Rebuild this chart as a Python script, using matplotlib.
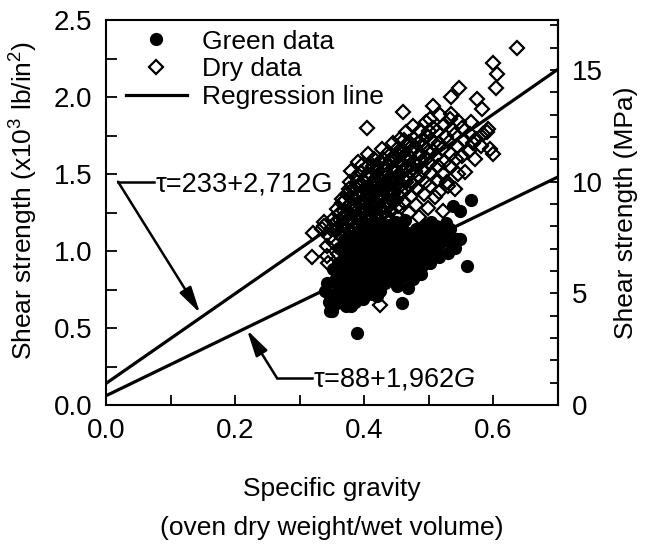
import numpy as np
import matplotlib
matplotlib.use("Agg")
import matplotlib.pyplot as plt
from matplotlib.ticker import MultipleLocator, FormatStrFormatter

plt.rcParams['font.family'] = ['Liberation Sans', 'DejaVu Sans']
plt.rcParams['font.size'] = 19
plt.rcParams['mathtext.fontset'] = 'custom'
plt.rcParams['mathtext.rm'] = 'Liberation Sans'
plt.rcParams['mathtext.it'] = 'Liberation Sans:italic'

# specific gravity, shear strength (x10^3 lb/in^2)
green_pts = [
    (0.388, 0.47), (0.350, 0.61), (0.458, 0.66), (0.559, 0.90), (0.419, 0.71),
    (0.450, 0.77), (0.468, 0.76), (0.380, 0.64), (0.543, 1.08), (0.339, 0.74),
    (0.489, 0.90), (0.566, 1.33), (0.538, 1.29), (0.548, 1.26), (0.347, 0.61),
    (0.548, 1.08), (0.345, 0.72), (0.343, 0.79), (0.352, 0.70), (0.354, 0.81),
    (0.351, 0.88), (0.358, 0.66), (0.359, 0.75), (0.357, 0.84), (0.360, 0.92),
    (0.365, 0.69), (0.366, 0.78), (0.364, 0.86), (0.367, 0.95), (0.372, 0.64),
    (0.373, 0.73), (0.371, 0.82), (0.374, 0.90), (0.372, 0.99), (0.378, 0.70),
    (0.379, 0.79), (0.377, 0.87), (0.380, 0.96), (0.378, 1.03), (0.385, 0.67),
    (0.386, 0.75), (0.384, 0.84), (0.387, 0.92), (0.385, 1.00), (0.392, 0.72),
    (0.393, 0.81), (0.391, 0.89), (0.394, 0.97), (0.392, 1.06), (0.398, 0.69),
    (0.399, 0.78), (0.397, 0.86), (0.400, 0.94), (0.398, 1.02), (0.401, 1.10),
    (0.405, 0.74), (0.406, 0.83), (0.404, 0.91), (0.407, 0.99), (0.405, 1.07),
    (0.412, 0.72), (0.413, 0.80), (0.411, 0.88), (0.414, 0.96), (0.412, 1.04),
    (0.415, 1.12), (0.418, 0.77), (0.419, 0.85), (0.417, 0.93), (0.420, 1.01),
    (0.418, 1.09), (0.425, 0.74), (0.426, 0.82), (0.424, 0.90), (0.427, 0.98),
    (0.425, 1.06), (0.428, 1.14), (0.432, 0.79), (0.433, 0.87), (0.431, 0.95),
    (0.434, 1.03), (0.432, 1.11), (0.438, 0.84), (0.439, 0.92), (0.437, 1.00),
    (0.440, 1.08), (0.445, 0.81), (0.446, 0.89), (0.444, 0.97), (0.447, 1.05),
    (0.445, 1.13), (0.452, 0.86), (0.453, 0.94), (0.451, 1.02), (0.454, 1.10),
    (0.458, 0.83), (0.459, 0.91), (0.457, 0.99), (0.460, 1.07), (0.458, 1.15),
    (0.465, 0.88), (0.466, 0.96), (0.464, 1.04), (0.467, 1.12), (0.472, 0.86),
    (0.473, 0.94), (0.471, 1.01), (0.474, 1.09), (0.478, 0.91), (0.479, 0.99),
    (0.477, 1.07), (0.480, 1.14), (0.485, 0.96), (0.486, 1.04), (0.484, 1.12),
    (0.492, 0.93), (0.493, 1.01), (0.491, 1.09), (0.494, 1.17), (0.498, 0.98),
    (0.499, 1.06), (0.497, 1.14), (0.505, 1.03), (0.506, 1.11), (0.504, 1.19),
    (0.512, 1.00), (0.513, 1.08), (0.511, 1.16), (0.518, 1.05), (0.519, 1.13),
    (0.525, 1.10), (0.526, 1.18), (0.532, 1.06), (0.533, 1.14), (0.361, 1.02),
    (0.369, 1.07), (0.383, 1.10), (0.396, 1.14), (0.409, 1.16), (0.421, 1.18),
    (0.436, 1.17), (0.449, 1.19), (0.463, 1.20), (0.476, 0.82), (0.488, 0.85),
    (0.502, 0.92), (0.516, 0.96), (0.529, 0.99), (0.540, 1.02), (0.346, 0.67),
]

dry_pts = [
    (0.637, 2.32), (0.599, 2.22), (0.605, 2.15), (0.604, 2.06), (0.546, 2.06),
    (0.535, 2.00), (0.574, 1.99), (0.582, 1.92), (0.460, 1.90), (0.404, 1.80),
    (0.507, 1.94), (0.535, 1.89), (0.566, 1.84), (0.592, 1.79), (0.502, 1.86),
    (0.600, 1.63), (0.556, 1.51), (0.540, 1.40), (0.406, 1.63), (0.396, 1.56),
    (0.365, 1.34), (0.337, 1.16), (0.499, 1.28), (0.522, 1.26), (0.442, 1.20),
    (0.590, 1.77), (0.569, 1.70), (0.319, 0.96), (0.321, 1.12), (0.334, 1.14),
    (0.424, 0.65), (0.342, 0.97), (0.344, 0.92), (0.595, 1.66),
    (0.343, 1.03), (0.347, 1.09), (0.338, 1.19), (0.352, 1.06), (0.356, 1.13),
    (0.351, 1.21), (0.358, 1.27), (0.362, 1.01), (0.364, 1.10), (0.367, 1.17),
    (0.361, 1.24), (0.366, 1.31), (0.371, 1.06), (0.374, 1.14), (0.372, 1.22),
    (0.376, 1.30), (0.373, 1.37), (0.378, 1.45), (0.381, 1.11), (0.384, 1.19),
    (0.382, 1.26), (0.386, 1.33), (0.383, 1.40), (0.387, 1.48), (0.391, 1.08),
    (0.394, 1.16), (0.392, 1.23), (0.396, 1.29), (0.393, 1.36), (0.397, 1.43),
    (0.395, 1.51), (0.402, 1.13), (0.404, 1.21), (0.401, 1.27), (0.406, 1.34),
    (0.403, 1.41), (0.407, 1.47), (0.405, 1.55), (0.412, 1.18), (0.414, 1.25),
    (0.411, 1.32), (0.416, 1.38), (0.413, 1.45), (0.417, 1.52), (0.415, 1.60),
    (0.421, 1.15), (0.424, 1.23), (0.422, 1.30), (0.426, 1.37), (0.423, 1.44),
    (0.427, 1.50), (0.425, 1.58), (0.428, 1.66), (0.432, 1.21), (0.434, 1.28),
    (0.431, 1.35), (0.436, 1.42), (0.433, 1.48), (0.437, 1.55), (0.435, 1.63),
    (0.442, 1.26), (0.444, 1.33), (0.441, 1.40), (0.446, 1.46), (0.443, 1.53),
    (0.447, 1.61), (0.445, 1.70), (0.452, 1.29), (0.454, 1.36), (0.451, 1.43),
    (0.456, 1.50), (0.453, 1.57), (0.457, 1.64), (0.455, 1.73), (0.462, 1.32),
    (0.464, 1.40), (0.461, 1.47), (0.466, 1.54), (0.463, 1.61), (0.467, 1.68),
    (0.465, 1.77), (0.472, 1.36), (0.474, 1.44), (0.471, 1.52), (0.476, 1.58),
    (0.473, 1.65), (0.477, 1.73), (0.475, 1.81), (0.482, 1.40), (0.484, 1.48),
    (0.481, 1.55), (0.486, 1.63), (0.483, 1.70), (0.487, 1.78), (0.492, 1.37),
    (0.494, 1.45), (0.491, 1.52), (0.496, 1.60), (0.493, 1.68), (0.497, 1.75),
    (0.495, 1.84), (0.502, 1.42), (0.504, 1.50), (0.501, 1.57), (0.506, 1.65),
    (0.503, 1.72), (0.507, 1.80), (0.512, 1.46), (0.514, 1.55), (0.511, 1.62),
    (0.516, 1.70), (0.513, 1.78), (0.517, 1.88), (0.522, 1.50), (0.524, 1.58),
    (0.521, 1.66), (0.526, 1.74), (0.523, 1.82), (0.532, 1.55), (0.534, 1.63),
    (0.531, 1.71), (0.536, 1.79), (0.533, 1.86), (0.542, 1.60), (0.544, 1.68),
    (0.541, 1.76), (0.546, 1.84), (0.552, 1.62), (0.554, 1.72), (0.551, 1.80),
    (0.562, 1.65), (0.564, 1.76), (0.571, 1.60), (0.573, 1.73), (0.581, 1.68),
    (0.584, 1.76), (0.385, 1.22), (0.395, 1.31), (0.405, 1.38), (0.415, 1.42),
    (0.425, 1.46), (0.398, 1.25), (0.409, 1.30), (0.418, 1.35), (0.388, 1.36),
    (0.400, 1.45), (0.430, 1.40), (0.420, 1.48), (0.410, 1.50), (0.438, 1.38),
    (0.448, 1.45), (0.378, 1.20), (0.368, 1.26), (0.358, 1.15), (0.360, 0.98),
    (0.372, 1.00), (0.390, 1.02), (0.450, 1.22), (0.470, 1.25), (0.480, 1.30),
    (0.510, 1.35), (0.530, 1.42), (0.485, 1.22), (0.528, 1.45), (0.515, 1.38),
    (0.545, 1.50), (0.363, 1.20), (0.370, 1.33), (0.376, 1.40), (0.380, 1.28),
    (0.389, 1.17), (0.390, 1.42), (0.399, 1.19), (0.402, 1.35), (0.408, 1.24),
    (0.410, 1.43), (0.414, 1.29), (0.419, 1.56), (0.421, 1.39), (0.424, 1.34),
    (0.429, 1.29), (0.430, 1.53), (0.434, 1.45), (0.439, 1.32), (0.440, 1.58),
    (0.446, 1.39), (0.449, 1.52), (0.451, 1.66), (0.455, 1.42), (0.459, 1.56),
    (0.462, 1.72), (0.468, 1.48), (0.470, 1.62), (0.478, 1.52), (0.479, 1.67),
    (0.488, 1.58), (0.490, 1.72), (0.498, 1.64), (0.500, 1.78), (0.508, 1.70),
    (0.375, 1.09), (0.355, 1.18), (0.348, 1.14), (0.380, 1.52), (0.391, 1.58),
    (0.369, 1.13), (0.374, 1.25), (0.379, 1.35), (0.383, 1.15), (0.387, 1.29),
    (0.389, 1.45), (0.393, 1.20), (0.397, 1.38), (0.400, 1.31), (0.403, 1.23),
    (0.404, 1.49), (0.407, 1.41), (0.409, 1.20), (0.412, 1.36), (0.413, 1.55),
    (0.416, 1.27), (0.418, 1.45), (0.419, 1.22), (0.422, 1.52), (0.423, 1.35),
    (0.426, 1.27), (0.428, 1.43), (0.429, 1.60), (0.431, 1.25), (0.433, 1.38),
    (0.436, 1.50), (0.438, 1.29), (0.440, 1.45), (0.442, 1.60), (0.444, 1.37),
    (0.447, 1.53), (0.449, 1.33), (0.452, 1.48), (0.454, 1.62), (0.457, 1.39),
    (0.459, 1.52), (0.461, 1.64), (0.464, 1.45), (0.467, 1.59), (0.469, 1.71),
]

green_G = np.array([p[0] for p in green_pts])
green_v = np.array([p[1] for p in green_pts])
dry_G = np.array([p[0] for p in dry_pts])
dry_v = np.array([p[1] for p in dry_pts])

# regression lines as drawn (intercept, slope), x10^3 lb/in^2
dry_fit = (0.14, 2.915)
green_fit = (0.06, 2.03)
line_G = np.array([0.0, 0.7])

fig = plt.figure(figsize=(6.47, 5.44), dpi=100)
ax = fig.add_axes([106 / 647, 139 / 544, 452 / 647, 385 / 544])

ax.plot(green_G, green_v, 'o', color='black', markersize=8.5, label='Green data', zorder=2)
ax.plot(dry_G, dry_v, 'D', mfc='none', mec='black', mew=1.6, markersize=7.5,
        label='Dry data', zorder=3)
ax.plot(line_G, dry_fit[0] + dry_fit[1] * line_G, color='black', lw=2.3,
        label='Regression line', zorder=4)
ax.plot(line_G, green_fit[0] + green_fit[1] * line_G, color='black', lw=2.3, zorder=4)

# leaders for the two equations
arrow = dict(arrowstyle='-|>,head_length=0.8,head_width=0.2', color='black', lw=1.8,
             mutation_scale=20, shrinkA=0, shrinkB=0)
ax.plot([0.0186, 0.075], [1.45, 1.45], color='black', lw=1.8)
ax.annotate('', xy=(0.1456, 0.597), xytext=(0.0186, 1.45), arrowprops=arrow)
ax.text(0.077, 1.43, 'τ=233+2,712G', va='center', ha='left', fontsize=19.5)
ax.plot([0.2648, 0.319], [0.175, 0.175], color='black', lw=1.8)
ax.annotate('', xy=(0.2184, 0.487), xytext=(0.2648, 0.175), arrowprops=arrow)
ax.text(0.321, 0.165, 'τ=88+1,962$\\mathit{G}$', va='center', ha='left', fontsize=19.5)

ax.set_xlim(0, 0.7)
ax.set_ylim(0, 2.5)
ax.xaxis.set_major_locator(MultipleLocator(0.2))
ax.xaxis.set_minor_locator(MultipleLocator(0.1))
ax.yaxis.set_major_locator(MultipleLocator(0.5))
ax.yaxis.set_minor_locator(MultipleLocator(0.25))
ax.xaxis.set_major_formatter(FormatStrFormatter('%.1f'))
ax.yaxis.set_major_formatter(FormatStrFormatter('%.1f'))
ax.tick_params(axis='both', which='both', labelsize=20)
ax.tick_params(axis='x', which='both', direction='in', length=7, width=1.3, pad=9)
ax.tick_params(axis='y', which='both', direction='in', length=8, width=1.3, pad=10)
for s in ax.spines.values():
    s.set_linewidth(1.5)

sec = ax.secondary_yaxis('right', functions=(lambda k: k * 6.894757, lambda m: m / 6.894757))
sec.yaxis.set_major_locator(MultipleLocator(5))
sec.yaxis.set_minor_locator(MultipleLocator(1))
sec.tick_params(which='both', direction='in', length=6, width=1.3, pad=10, labelsize=20)
sec.spines['right'].set_linewidth(1.5)
sec.set_ylabel('Shear strength (MPa)', labelpad=8)

ax.set_ylabel('Shear strength (x10$^3$ lb/in$^2$)')
ax.yaxis.set_label_coords(-0.146, 0.53)
fig.text((106 + 558) / 2 / 647, 1 - 489 / 544, 'Specific gravity', ha='center', va='center')
fig.text((106 + 558) / 2 / 647, 1 - 528 / 544, '(oven dry weight/wet volume)',
         ha='center', va='center')

ax.legend(loc='upper left', bbox_to_anchor=(0.044, 0.975), frameon=False,
          handlelength=2.3, handletextpad=0.6, labelspacing=0.14,
          borderaxespad=0, borderpad=0, fontsize=19)

fig.savefig('out.png', dpi=100)
